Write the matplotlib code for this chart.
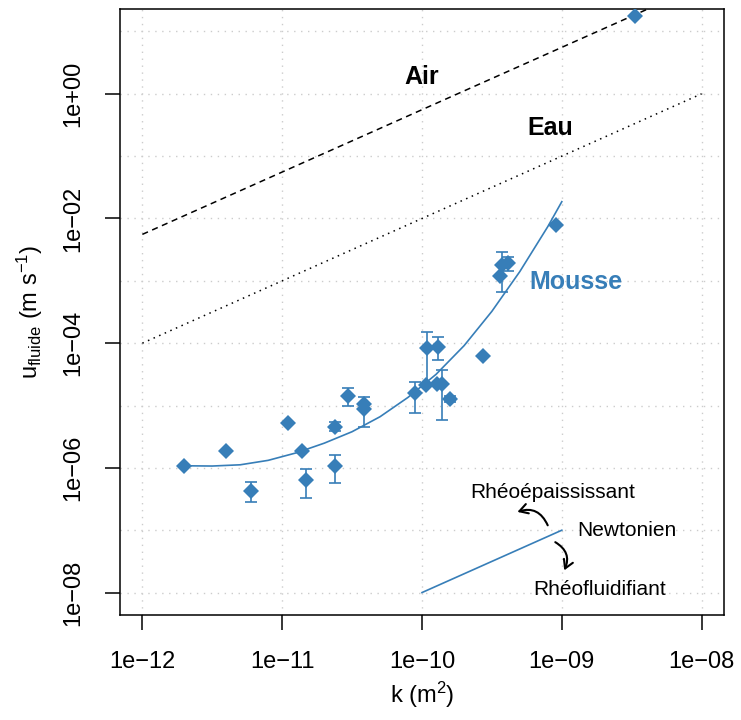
import matplotlib
matplotlib.use("Agg")
import matplotlib.pyplot as plt
import numpy as np

plt.rcParams["font.family"] = ["Liberation Sans", "DejaVu Sans"]
plt.rcParams["mathtext.default"] = "regular"

BLUE = "#377EB8"

# Mesures mousse (k en m2, u en m/s)
k_pts = [1.97e-12, 3.98e-12, 5.94e-12, 1.1e-11, 1.39e-11, 1.49e-11, 2.39e-11, 2.39e-11,
         2.98e-11, 3.87e-11, 3.87e-11, 8.9e-11, 1.07e-10, 1.08e-10, 1.31e-10, 1.28e-10,
         1.38e-10, 1.58e-10, 2.74e-10, 3.6e-10, 3.75e-10, 4.15e-10, 9.16e-10, 3.32e-9]
u_pts = [1.08e-6, 1.86e-6, 4.3e-7, 5.3e-6, 1.86e-6, 6.4e-7, 1.08e-6, 4.57e-6,
         1.42e-5, 1.05e-5, 8.7e-6, 1.56e-5, 2.16e-5, 8.3e-5, 8.8e-5, 2.2e-5,
         2.2e-5, 1.27e-5, 6.3e-5, 1.21e-3, 1.82e-3, 1.92e-3, 7.98e-3, 18.0]

# Barres d'erreur
k_err = [5.94e-12, 1.49e-11, 2.39e-11, 2.39e-11, 2.98e-11, 3.87e-11, 8.9e-11, 1.08e-10,
         1.31e-10, 1.38e-10, 1.58e-10, 3.75e-10, 4.15e-10]
u_err = [4.3e-7, 6.4e-7, 1.08e-6, 4.57e-6, 1.42e-5, 1.05e-5, 1.56e-5, 8.3e-5,
         8.8e-5, 2.2e-5, 1.27e-5, 1.82e-3, 1.92e-3]
u_lo = [2.79e-7, 3.23e-7, 5.75e-7, 3.84e-6, 9.9e-6, 4.5e-6, 7.6e-6, 2.2e-5,
        5.37e-5, 5.9e-6, 1.14e-5, 6.7e-4, 1.45e-3]
u_hi = [5.83e-7, 9.57e-7, 1.6e-6, 5.36e-6, 1.88e-5, 1.38e-5, 2.35e-5, 1.49e-4,
        1.24e-4, 3.72e-5, 1.4e-5, 2.87e-3, 2.4e-3]

# Ajustement mousse
k_fit = [2.0e-12, 3.16e-12, 5.01e-12, 7.94e-12, 1.26e-11, 2.0e-11, 3.16e-11, 5.01e-11,
         7.94e-11, 1.26e-10, 2.0e-10, 3.16e-10, 5.01e-10, 7.94e-10, 1.0e-9]
u_fit = [1.08e-6, 1.07e-6, 1.12e-6, 1.32e-6, 1.74e-6, 2.49e-6, 3.80e-6, 6.61e-6,
         1.35e-5, 3.16e-5, 9.12e-5, 3.24e-4, 1.41e-3, 7.41e-3, 1.86e-2]

# Darcy air / eau
k_line = [1e-12, 1e-8]
u_air = [5.56e-3, 55.6]
u_eau = [1e-4, 1.0]

# Pente newtonienne
k_newt = [1e-10, 1e-9]
u_newt = [1e-8, 1e-7]

x_ticks = [1e-12, 1e-11, 1e-10, 1e-9, 1e-8]
x_labels = ["1e\u221212", "1e\u221211", "1e\u221210", "1e\u221209", "1e\u221208"]
y_ticks = [1e-8, 1e-6, 1e-4, 1e-2, 1e0]
y_labels = ["1e\u221208", "1e\u221206", "1e\u221204", "1e\u221202", "1e+00"]
y_grid = [1e-7, 1e-5, 1e-3, 1e-1, 1e1]

fig = plt.figure(figsize=(7.41, 7.2), dpi=100)
ax = fig.add_axes([120 / 741, 1 - 615 / 720, 604 / 741, 606 / 720])
ax.set_xscale("log")
ax.set_yscale("log")
ax.set_xlim(10 ** -12.16, 10 ** -7.84)
ax.set_ylim(10 ** -8.36, 10 ** 1.36)

# Grille pointillée
for x in x_ticks:
    ax.axvline(x, color="#cccccc", lw=1.0, ls=(0, (1, 4)), zorder=0)
for y in y_ticks + y_grid:
    ax.axhline(y, color="#cccccc", lw=1.0, ls=(0, (1, 4)), zorder=0)

ax.plot(k_line, u_air, color="black", lw=1.1, ls=(0, (4, 3)))
ax.plot(k_line, u_eau, color="black", lw=1.1, ls=(0, (1, 3)))
ax.plot(k_fit, u_fit, color=BLUE, lw=1.2)
ax.plot(k_newt, u_newt, color=BLUE, lw=1.2)

u_err_arr = np.array(u_err)
yerr = [u_err_arr - np.array(u_lo), np.array(u_hi) - u_err_arr]
ax.errorbar(k_err, u_err, yerr=yerr, fmt="none", ecolor=BLUE, elinewidth=1.2,
            capsize=4.5, capthick=1.2)
ax.plot(k_pts, u_pts, ls="none", marker="D", ms=7.8, mew=0, color=BLUE, zorder=5)

ax.text(1e-10, 1.85, "Air", fontsize=18, fontweight="bold", ha="center", va="center")
ax.text(8.2e-10, 0.284, "Eau", fontsize=18, fontweight="bold", ha="center", va="center")
ax.text(1.27e-9, 9.5e-4, "Mousse", fontsize=18, fontweight="bold", color=BLUE,
        ha="center", va="center")

ax.text(8.63e-10, 4.03e-7, "Rhéoépaississant", fontsize=15, ha="center", va="center")
ax.text(2.9e-9, 9.8e-8, "Newtonien", fontsize=15, ha="center", va="center")
ax.text(1.87e-9, 1.13e-8, "Rhéofluidifiant", fontsize=15, ha="center", va="center")

arrow = dict(arrowstyle="->,head_length=0.6,head_width=0.35", color="black", lw=1.5)
ax.annotate("", xy=(4.61e-10, 1.9e-7), xytext=(8.07e-10, 1.09e-7),
            arrowprops=dict(arrow, connectionstyle="arc3,rad=0.5"))
ax.annotate("", xy=(1.02e-9, 2.07e-8), xytext=(8.63e-10, 6.76e-8),
            arrowprops=dict(arrow, connectionstyle="arc3,rad=-0.5"))

ax.set_xticks(x_ticks)
ax.set_xticklabels(x_labels)
ax.set_yticks(y_ticks)
ax.set_yticklabels(y_labels, rotation=90, va="center")
ax.minorticks_off()
ax.tick_params(axis="both", length=10.8, width=1.1, labelsize=17, pad=15)
for s in ax.spines.values():
    s.set_linewidth(1.1)

ax.set_xlabel("k (m$^2$)", fontsize=17)
ax.xaxis.set_label_coords(0.5, -0.107)
ax.set_ylabel("u$_{fluide}$ (m s$^{-1}$)", fontsize=17, va="center")
ax.yaxis.set_label_coords(-0.15, 0.5)

fig.savefig("out.png", dpi=100)
